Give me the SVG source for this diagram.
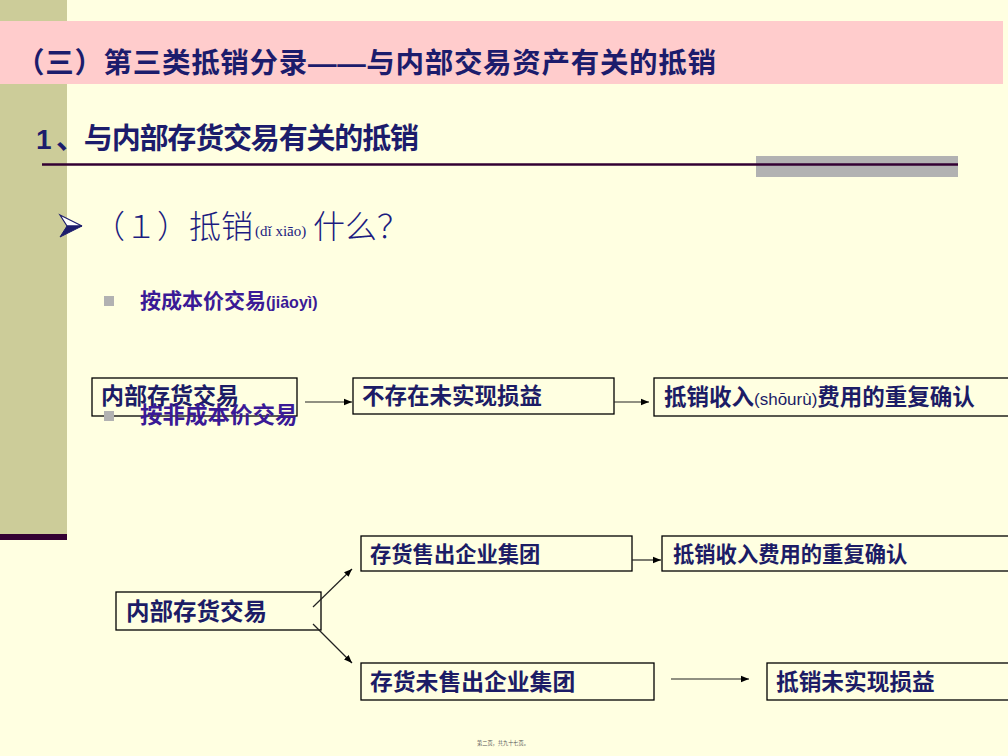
<svg xmlns="http://www.w3.org/2000/svg" width="1008" height="756" viewBox="0 0 1008 756">
<style>
.h{font-family:"Liberation Sans","Noto Sans CJK SC",sans-serif;font-weight:bold;fill:#1c1c6c}
.bx{fill:#FFFFE1;stroke:#000;stroke-width:1.3}
.bt{font-family:"Liberation Sans","Noto Sans CJK SC",sans-serif;font-weight:bold;fill:#1c1c66}
.py{font-family:"Liberation Sans","Noto Sans CJK SC",sans-serif;font-weight:normal}
.pu{font-family:"Liberation Sans","Noto Sans CJK SC",sans-serif;font-weight:bold;fill:#3a1a96}
.c{stroke:#222;stroke-width:1.2;fill:none;marker-end:url(#ah)}
</style>
<defs>
<marker id="ah" viewBox="0 0 10 10" refX="10" refY="5" markerWidth="8" markerHeight="8" markerUnits="userSpaceOnUse" orient="auto">
<path d="M0,1 L10,5 L0,9 z" fill="#000"/>
</marker>
</defs>
<rect width="1008" height="756" fill="#FFFFE1"/>
<rect x="0" y="0" width="67" height="534" fill="#CCCC99"/>
<rect x="0" y="534" width="67" height="6" fill="#330033"/>
<rect x="0" y="21" width="1003" height="63" fill="#FFCCCC"/>
<text class="h" x="16" y="73" font-size="28.5" textLength="700" lengthAdjust="spacing">（三）第三类抵销分录——与内部交易资产有关的抵销</text>
<text class="h" x="36" y="149" font-size="28">1</text>
<text class="h" x="56" y="149" font-size="29" textLength="363" lengthAdjust="spacing">、与内部存货交易有关的抵销</text>
<rect x="756" y="156" width="202" height="21" fill="#B2B2B2"/>
<line x1="42" y1="164.5" x2="958" y2="164.5" stroke="#330033" stroke-width="2.5"/>
<g id="bullet-arrow">
<polygon points="60,215 82,226 67,226" fill="#FFFFFF" stroke="#1c1c6c" stroke-width="1.2"/>
<polygon points="82,226 60,237 67,226" fill="#1c1c6c" stroke="#1c1c6c" stroke-width="1"/>
</g>
<text font-family="'Liberation Serif','Noto Sans CJK SC',serif" font-weight="300" fill="#1c1c80" y="238" font-size="32"><tspan x="93">（１）抵销</tspan><tspan x="255" y="236" font-size="15">(dǐ xiāo)</tspan><tspan x="313" y="238">什么？</tspan></text>
<rect x="104" y="296" width="10" height="10" fill="#B2B2B2"/>
<text class="pu" x="140" y="308" font-size="21"><tspan>按成本价交易</tspan><tspan font-size="16">(jiāoyì)</tspan></text>
<g id="n1"><rect class="bx" x="92" y="378" width="205" height="38"/><text class="bt" x="101" y="404" font-size="23">内部存货交易</text></g>
<rect x="104" y="411" width="10" height="10" fill="#B2B2B2"/>
<text class="pu" x="140" y="423" font-size="22.5">按非成本价交易</text>
<g id="n2"><rect class="bx" x="353" y="378" width="261" height="36"/><text class="bt" x="362" y="404" font-size="22.5">不存在未实现损益</text></g>
<g id="n3"><rect class="bx" x="654" y="378" width="360" height="38"/><text class="bt" x="664" y="405" font-size="22.5"><tspan>抵销收入</tspan><tspan class="py" font-size="17">(shōurù)</tspan><tspan>费用的重复确认</tspan></text></g>
<g id="nA"><rect class="bx" x="116" y="592" width="205" height="38"/><text class="bt" x="126" y="620" font-size="23.5">内部存货交易</text></g>
<g id="nB"><rect class="bx" x="361" y="536" width="271" height="35"/><text class="bt" x="370" y="562" font-size="21.3">存货售出企业集团</text></g>
<g id="nC"><rect class="bx" x="662" y="536" width="352" height="35"/><text class="bt" x="673" y="562" font-size="21.3">抵销收入费用的重复确认</text></g>
<g id="nD"><rect class="bx" x="361" y="663" width="293" height="37"/><text class="bt" x="370" y="690" font-size="22.8">存货未售出企业集团</text></g>
<g id="nE"><rect class="bx" x="767" y="663" width="247" height="37"/><text class="bt" x="776" y="690" font-size="22.7">抵销未实现损益</text></g>
<g id="connectors">
<line class="c" x1="305" y1="402" x2="352" y2="402"/>
<line class="c" x1="614" y1="402" x2="649" y2="402"/>
<line class="c" x1="632" y1="560" x2="661" y2="560"/>
<line class="c" x1="671" y1="679" x2="749" y2="679"/>
<line class="c" x1="313" y1="607" x2="352" y2="569"/>
<line class="c" x1="313" y1="624" x2="352" y2="663"/>
</g>
<text x="503" y="745" font-family="'Noto Sans CJK SC',sans-serif" font-size="5.2" fill="#555" text-anchor="middle">第二页，共九十七页。</text>
</svg>
